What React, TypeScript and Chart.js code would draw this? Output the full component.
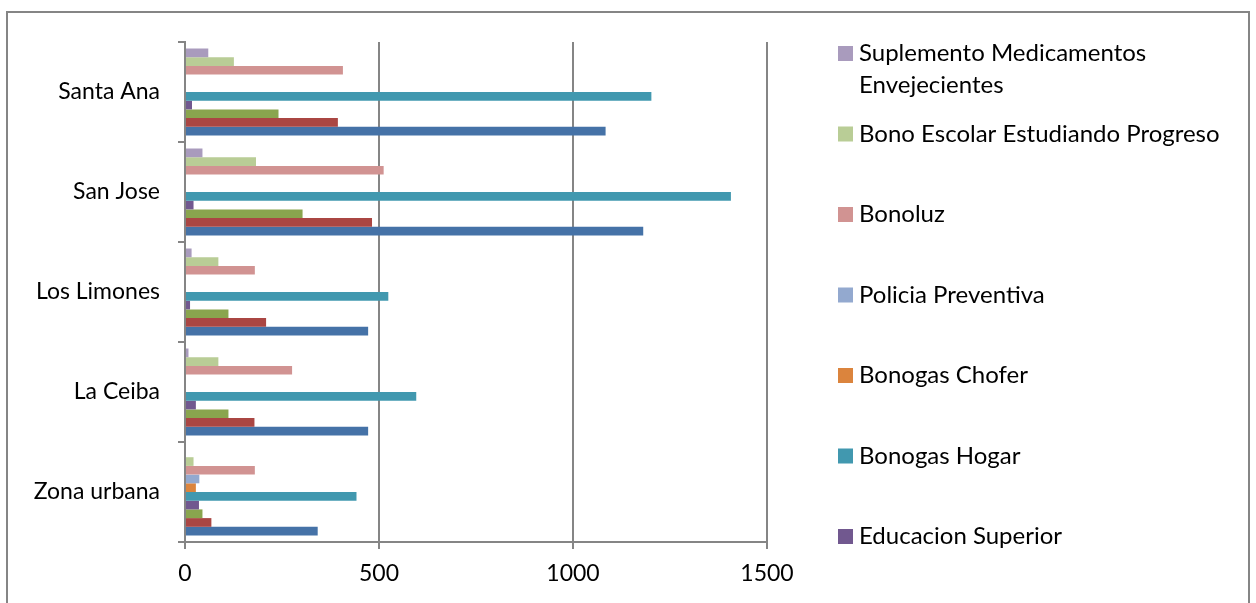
import React, { useEffect, useRef } from "react";
import { Chart, registerables } from "chart.js";

Chart.register(...registerables);

const categories = ["Santa Ana", "San Jose", "Los Limones", "La Ceiba", "Zona urbana"];

const suplementoMedicamentos = [60, 45, 17, 9, 0];
const bonoEscolar = [126, 183, 86, 86, 22];
const bonoluz = [407, 512, 180, 276, 180];
const policiaPreventiva = [0, 0, 0, 0, 37];
const bonogasChofer = [0, 0, 0, 0, 28];
const bonogasHogar = [1202, 1407, 524, 596, 442];
const educacionSuperior = [18, 22, 13, 28, 36];
const serieVerde = [241, 303, 112, 112, 45];
const serieRoja = [394, 482, 209, 179, 68];
const serieAzul = [1084, 1181, 472, 472, 342];

const xTicks = [0, 500, 1000, 1500];

const seriesNames = [
  "Suplemento Medicamentos Envejecientes",
  "Bono Escolar Estudiando Progreso",
  "Bonoluz",
  "Policia Preventiva",
  "Bonogas Chofer",
  "Bonogas Hogar",
  "Educacion Superior",
  "Serie C",
  "Serie B",
  "Serie A",
];
const seriesValues = [
  suplementoMedicamentos,
  bonoEscolar,
  bonoluz,
  policiaPreventiva,
  bonogasChofer,
  bonogasHogar,
  educacionSuperior,
  serieVerde,
  serieRoja,
  serieAzul,
];
const seriesColors = [
  "#A99BBD",
  "#B9CD96",
  "#D19392",
  "#93A9CF",
  "#DB843D",
  "#4198AF",
  "#71588F",
  "#89A54E",
  "#AA4643",
  "#4572A7",
];
const legendCount = 7;

const FONT = "Lato, 'Open Sans', sans-serif";
const GRID = "#858585";

const frameAndLegend = {
  id: "frameAndLegend",
  beforeDraw(chart: any) {
    const ctx = chart.ctx;
    ctx.save();
    ctx.fillStyle = "#ffffff";
    ctx.fillRect(0, 0, chart.width, chart.height);
    ctx.strokeStyle = GRID;
    ctx.lineWidth = 2;
    ctx.strokeRect(7, 12, chart.width - 14, chart.height + 20);
    ctx.restore();
  },
  afterDraw(chart: any) {
    const ctx = chart.ctx;
    ctx.save();
    ctx.font = `24px ${FONT}`;
    ctx.textBaseline = "middle";
    ctx.textAlign = "left";
    const markerX = 838;
    const textX = 859;
    const maxW = 385;
    const firstY = 53.5;
    const step = 80.5;
    const lineH = 32;
    chart.data.datasets.slice(0, legendCount).forEach((ds: any, i: number) => {
      const cy = firstY + i * step;
      ctx.fillStyle = ds.backgroundColor;
      ctx.fillRect(markerX, cy - 7.5, 15, 15);
      const words = String(ds.label).split(" ");
      const lines: string[] = [];
      let cur = "";
      words.forEach((w) => {
        const t = cur ? cur + " " + w : w;
        if (ctx.measureText(t).width > maxW && cur) {
          lines.push(cur);
          cur = w;
        } else cur = t;
      });
      if (cur) lines.push(cur);
      ctx.fillStyle = "#000000";
      lines.forEach((l, k) => ctx.fillText(l, textX, cy + k * lineH));
    });
    ctx.restore();
  },
};

export default function App() {
  const ref = useRef<HTMLCanvasElement | null>(null);
  useEffect(() => {
    if (!ref.current) return;
    const chart = new Chart(ref.current, {
      type: "bar",
      data: {
        labels: categories,
        datasets: seriesNames.map((n, i) => ({
          label: n,
          data: seriesValues[i],
          backgroundColor: seriesColors[i],
          borderWidth: 0,
          categoryPercentage: 0.87,
          barPercentage: 1,
        })),
      },
      options: {
        indexAxis: "y",
        responsive: false,
        animation: false,
        devicePixelRatio: 1,
        layout: { padding: { left: 0, top: 42, right: 489, bottom: 0 } },
        plugins: { legend: { display: false }, tooltip: { enabled: false } },
        scales: {
          x: {
            type: "linear",
            min: 0,
            max: 1500,
            afterBuildTicks: (s: any) => {
              s.ticks = xTicks.map((v) => ({ value: v }));
            },
            afterFit: (s: any) => {
              s.height = 61;
            },
            grid: { color: GRID, lineWidth: 2, tickLength: 7, drawTicks: true },
            border: { color: GRID, width: 2 },
            ticks: {
              color: "#000",
              font: { family: FONT, size: 23 },
              padding: 11,
              maxRotation: 0,
              callback: (v: any) => String(v),
            },
          },
          y: {
            type: "category",
            afterFit: (s: any) => {
              s.width = 185;
            },
            grid: { drawOnChartArea: false, drawTicks: true, tickLength: 7, color: GRID, lineWidth: 2, offset: true },
            border: { color: GRID, width: 2 },
            ticks: { color: "#000", font: { family: FONT, size: 23 }, padding: 18 },
          },
        },
      },
      plugins: [frameAndLegend],
    } as any);
    return () => chart.destroy();
  }, []);
  return (
    <div style={{ position: "fixed", left: 0, top: 0, width: 1256, height: 603, background: "#fff" }}>
      <canvas ref={ref} width={1256} height={603} style={{ width: 1256, height: 603, display: "block" }} />
    </div>
  );
}
